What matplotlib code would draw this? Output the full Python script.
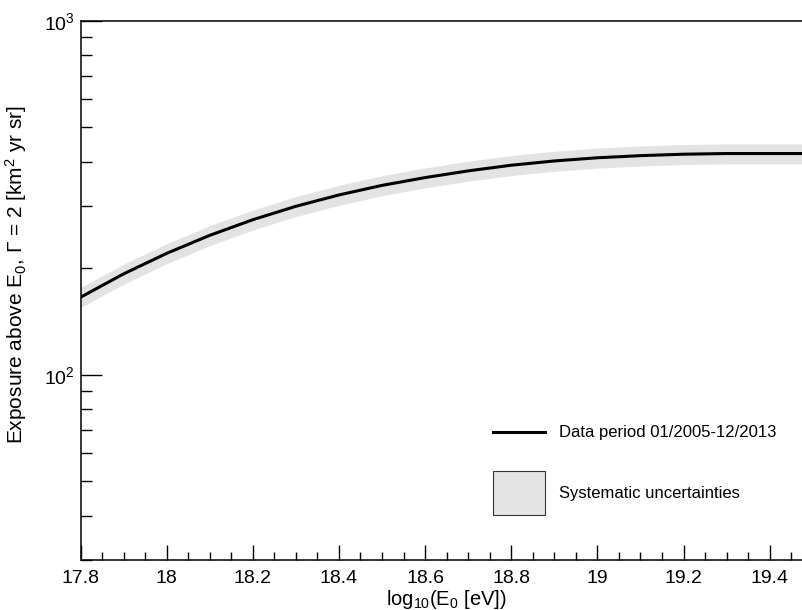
import numpy as np
import matplotlib
matplotlib.use("Agg")
import matplotlib.pyplot as plt
import matplotlib.ticker as mtick
from matplotlib.lines import Line2D
from matplotlib.patches import Patch

plt.rcParams['font.family'] = ['Liberation Sans', 'DejaVu Sans']
plt.rcParams['mathtext.fontset'] = 'custom'
plt.rcParams['mathtext.rm'] = 'Liberation Sans'
plt.rcParams['mathtext.it'] = 'Liberation Sans:italic'
plt.rcParams['mathtext.default'] = 'regular'

# exposure vs. energy threshold
log_e = [17.8, 17.9, 18.0, 18.1, 18.2, 18.3, 18.4, 18.5, 18.6, 18.7,
         18.8, 18.9, 19.0, 19.1, 19.2, 19.3, 19.4, 19.5]
exposure = [165.6, 192.8, 220.3, 247.7, 274.2, 299.2, 322.1, 342.8, 360.6, 376.7,
            390.8, 401.8, 410.2, 415.9, 419.8, 421.7, 421.7, 421.7]
syst_frac = 0.065                                                    # relative systematic uncertainty (band half-width)

line_label = "Data period 01/2005-12/2013"
band_label = "Systematic uncertainties"

x = np.array(log_e)
y = np.array(exposure)

fig = plt.figure(figsize=(8.02, 6.10), dpi=100)
ax = fig.add_axes([0.1004, 0.082, 0.8996, 0.884])

ax.fill_between(x, y * (1 - syst_frac), y * (1 + syst_frac), color='#e3e3e3', lw=0)
ax.plot(x, y, color='black', lw=2.2)

ax.set_yscale('log')
ax.set_ylim(30, 1000)
ax.set_xlim(17.8, 19.475)

ax.xaxis.set_major_locator(mtick.MultipleLocator(0.2))
ax.xaxis.set_minor_locator(mtick.MultipleLocator(0.05))
ax.xaxis.set_major_formatter(mtick.FuncFormatter(lambda v, p: ('%.1f' % v).rstrip('0').rstrip('.')))
ax.yaxis.set_major_locator(mtick.LogLocator(base=10))
ax.yaxis.set_minor_locator(mtick.LogLocator(base=10, subs=np.arange(2, 10)))
ax.yaxis.set_minor_formatter(mtick.NullFormatter())

ax.tick_params(which='both', direction='in', labelsize=14, width=1, color='black')
ax.tick_params(axis='x', which='major', length=11, pad=7)
ax.tick_params(axis='x', which='minor', length=5.5)
ax.tick_params(axis='y', which='major', length=15, pad=4)
ax.tick_params(axis='y', which='minor', length=8)

ax.spines['right'].set_visible(False)
for s in ['left', 'bottom', 'top']:
    ax.spines[s].set_linewidth(1.1)

ax.set_xlabel('log$_{10}$(E$_0$ [eV])', fontsize=14.5)
ax.xaxis.set_label_coords(0.5075, -0.052)
ax.set_ylabel('Exposure above E$_0$, Γ = 2 [km$^2$ yr sr]', fontsize=15)
ax.yaxis.set_label_coords(-0.0714, 0.53)

# two separate legend entries so each text sits centred on its handle
leg_line = ax.legend([Line2D([], [], color='black', lw=2.2)], [line_label],
                     loc='center left', bbox_to_anchor=(0.5717, 0.2355),
                     frameon=False, fontsize=12, handlelength=3.1,
                     handletextpad=0.85, borderpad=0, borderaxespad=0)
ax.add_artist(leg_line)
ax.legend([Patch(facecolor='#e3e3e3', edgecolor='#333333', lw=0.8)], [band_label],
          loc='center left', bbox_to_anchor=(0.5717, 0.1242),
          frameon=False, fontsize=12, handlelength=3.1, handleheight=3.6,
          handletextpad=0.85, borderpad=0, borderaxespad=0)

plt.savefig('out.png', dpi=100)
